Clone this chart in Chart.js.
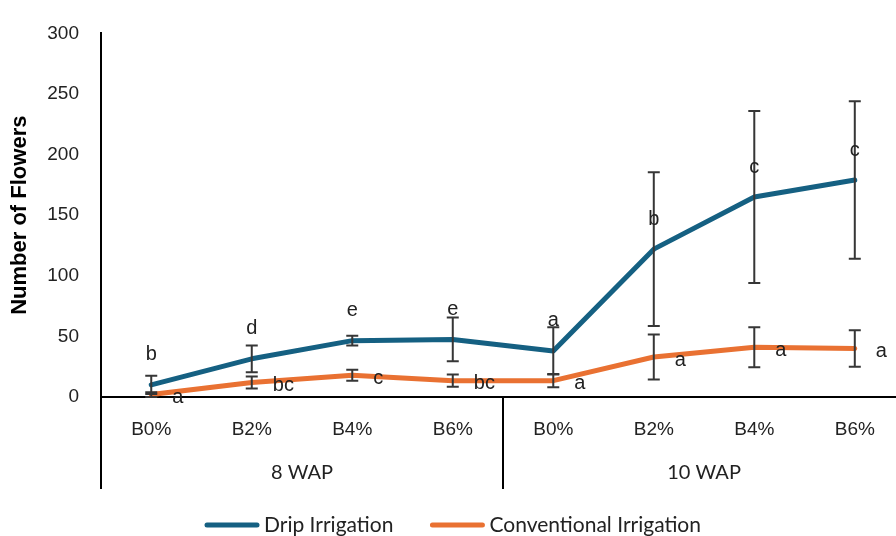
<!DOCTYPE html>
<html>
<head>
<meta charset="utf-8">
<script src="https://cdn.jsdelivr.net/npm/chart.js@4.4.1/dist/chart.umd.min.js"></script>
<style>
  html, body { margin: 0; padding: 0; background: #ffffff; }
  #wrap { width: 896px; height: 536px; }
</style>
</head>
<body>
<div id="wrap"><canvas id="flowers" width="896" height="536"></canvas></div>
<script>
// Treatments along the x axis, grouped by sampling stage (4 per stage)
const treatments = ['B0%', 'B2%', 'B4%', 'B6%', 'B0%', 'B2%', 'B4%', 'B6%'];
const stages = ['8 WAP', '10 WAP'];

// Mean number of flowers, error (±) and significance letters per treatment
const dripMeans   = [10, 31.5, 46.5, 47.5, 38, 122, 165, 179];
const dripErrors  = [7.5, 11, 4, 18, 19.5, 63.5, 71, 65];
const dripLetters = ['b', 'd', 'e', 'e', 'a', 'b', 'c', 'c'];

const convMeans   = [2, 12, 18, 13.5, 13.5, 33, 41, 40];
const convErrors  = [2, 5, 4.5, 5, 5.5, 18.5, 16.5, 15];
const convLetters = ['a', 'bc', 'c', 'bc', 'a', 'a', 'a', 'a'];

// Value axis ticks
const yTicks = [0, 50, 100, 150, 200, 250, 300];

const BLUE = '#156082';
const ORANGE = '#E97132';
const TEXT = '#222222';
const SANS = "'Liberation Sans', Arial, sans-serif";
const LATO = "Lato, 'Open Sans', sans-serif";

const toPoints = arr => arr.map((v, i) => ({ x: i, y: v }));

// Error bars, letter annotations and the two-level category axis
const annotations = {
  id: 'annotations',
  afterDatasetsDraw(chart) {
    const { ctx, scales: { x, y }, chartArea } = chart;
    const sets = [
      { errors: dripErrors, letters: dripLetters, means: dripMeans, place: 'above' },
      { errors: convErrors, letters: convLetters, means: convMeans, place: 'right' }
    ];
    ctx.save();
    // error bars
    ctx.strokeStyle = '#363636';
    ctx.lineWidth = 2;
    sets.forEach((s, di) => {
      const meta = chart.getDatasetMeta(di);
      meta.data.forEach((pt, i) => {
        const top = y.getPixelForValue(s.means[i] + s.errors[i]);
        const bot = y.getPixelForValue(Math.max(0, s.means[i] - s.errors[i]));
        const px = pt.x, cap = 6;
        ctx.beginPath();
        ctx.moveTo(px, top); ctx.lineTo(px, bot);
        ctx.moveTo(px - cap, top); ctx.lineTo(px + cap, top);
        ctx.moveTo(px - cap, bot); ctx.lineTo(px + cap, bot);
        ctx.stroke();
      });
    });
    // letters
    ctx.fillStyle = TEXT;
    ctx.font = '20px ' + SANS;
    ctx.textBaseline = 'middle';
    sets.forEach((s, di) => {
      const meta = chart.getDatasetMeta(di);
      meta.data.forEach((pt, i) => {
        if (s.place === 'above') {
          ctx.textAlign = 'center';
          ctx.fillText(s.letters[i], pt.x, pt.y - 30);
        } else {
          ctx.textAlign = 'left';
          ctx.fillText(s.letters[i], pt.x + 21, pt.y + 3);
        }
      });
    });
    // stage brackets below the axis
    const depth = 92;
    ctx.strokeStyle = '#000000';
    ctx.lineWidth = 2;
    ctx.beginPath();
    for (let g = 0; g <= stages.length; g++) {
      const px = Math.round(x.getPixelForValue(g * 4 - 0.5));
      ctx.moveTo(px, chartArea.bottom);
      ctx.lineTo(px, chartArea.bottom + depth);
    }
    ctx.stroke();
    ctx.font = '20px ' + LATO;
    ctx.textAlign = 'center';
    stages.forEach((name, g) => {
      ctx.fillText(name, x.getPixelForValue(g * 4 + 1.5), chartArea.bottom + 76);
    });
    ctx.restore();
  },
  // legend row: line sample followed by series name
  afterDraw(chart) {
    const { ctx } = chart;
    const sample = 54, gap = 5, itemGap = 37, cy = 525;
    ctx.save();
    ctx.font = '21px ' + LATO;
    ctx.textBaseline = 'middle';
    ctx.textAlign = 'left';
    const sets = chart.data.datasets;
    const widths = sets.map(d => sample + gap + ctx.measureText(d.label).width);
    const total = widths.reduce((a, b) => a + b, 0) + itemGap * (sets.length - 1);
    let cx = 453 - total / 2;
    sets.forEach((d, i) => {
      ctx.strokeStyle = d.borderColor;
      ctx.lineWidth = d.borderWidth;
      ctx.lineCap = 'round';
      ctx.beginPath();
      ctx.moveTo(cx + 2, cy);
      ctx.lineTo(cx + sample - 2, cy);
      ctx.stroke();
      ctx.fillStyle = TEXT;
      ctx.fillText(d.label, cx + sample + gap, cy);
      cx += widths[i] + itemGap;
    });
    ctx.restore();
  }
};

new Chart(document.getElementById('flowers'), {
  type: 'line',
  data: {
    datasets: [
      {
        label: 'Drip Irrigation',
        data: toPoints(dripMeans),
        borderColor: BLUE,
        backgroundColor: BLUE,
        borderWidth: 5,
        borderCapStyle: 'round',
        borderJoinStyle: 'round',
        pointRadius: 0,
        tension: 0
      },
      {
        label: 'Conventional Irrigation',
        data: toPoints(convMeans),
        borderColor: ORANGE,
        backgroundColor: ORANGE,
        borderWidth: 5,
        borderCapStyle: 'round',
        borderJoinStyle: 'round',
        pointRadius: 0,
        tension: 0
      }
    ]
  },
  options: {
    responsive: false,
    animation: false,
    devicePixelRatio: 1,
    layout: { padding: { top: 25, right: 0, bottom: 0, left: 0 } },
    plugins: {
      tooltip: { enabled: false },
      legend: { display: false }
    },
    scales: {
      x: {
        type: 'linear',
        min: -0.5,
        max: 7.41,
        bounds: 'data',
        afterBuildTicks: s => { s.ticks = treatments.map((_, i) => ({ value: i })); },
        afterFit: s => { s.height = 139; },
        grid: { display: false, drawTicks: false },
        border: { display: true, color: '#000000', width: 2 },
        ticks: {
          autoSkip: false,
          maxRotation: 0,
          padding: 21,
          color: TEXT,
          font: { family: SANS, size: 19 },
          callback: v => treatments[v] ?? ''
        }
      },
      y: {
        min: 0,
        max: 300,
        afterBuildTicks: s => { s.ticks = yTicks.map(v => ({ value: v })); },
        afterFit: s => { s.width = 101; },
        grid: { display: false, drawTicks: false },
        border: { display: true, color: '#000000', width: 2 },
        ticks: {
          padding: 22,
          color: TEXT,
          font: { family: SANS, size: 19 }
        },
        title: {
          display: true,
          text: 'Number of Flowers',
          color: '#000000',
          padding: { top: 7, bottom: 0 },
          font: { family: SANS, size: 22, weight: 'bold' }
        }
      }
    }
  },
  plugins: [annotations]
});
</script>
</body>
</html>
